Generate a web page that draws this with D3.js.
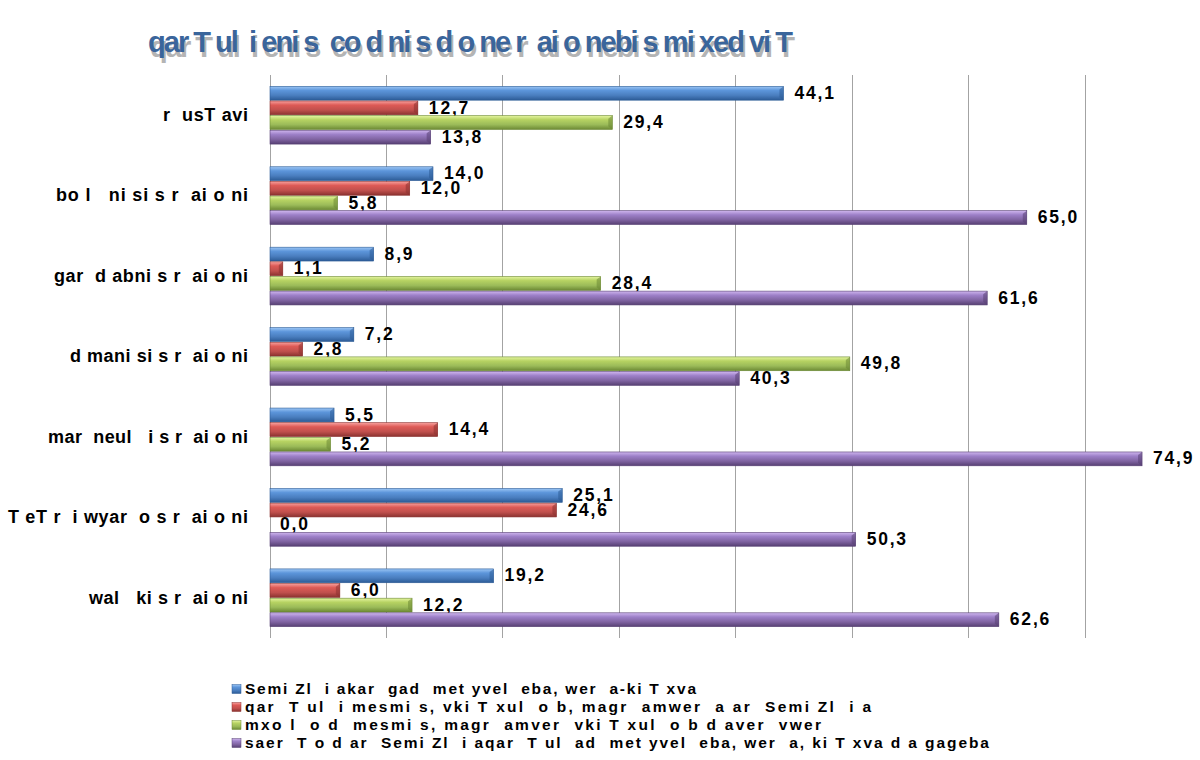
<!DOCTYPE html>
<html>
<head>
<meta charset="utf-8">
<script src="https://cdn.jsdelivr.net/npm/d3@7"></script>
<style>
  body { margin: 0; background: #fff; }
  svg text { font-family: "Liberation Sans", Arial, sans-serif; white-space: pre; }
</style>
</head>
<body>
<div id="chart"></div>
<script>
// Region labels, as they show on the picture
const categories = [
  "r  usT avi",
  "bo l   ni si s r  ai o ni",
  "gar  d abni s r  ai o ni",
  "d mani si s r  ai o ni",
  "mar  neul   i s r  ai o ni",
  "T eT r  i wyar  o s r  ai o ni",
  "wal   ki s r  ai o ni"
];

const seriesNames = [
  "Semi Zl  i akar  gad  met yvel  eba, wer  a-ki T xva",
  "qar  T ul  i mesmi s, vki T xul  o b, magr  amwer  a ar  Semi Zl  i a",
  "mxo l  o d  mesmi s, magr  amver  vki T xul  o b d aver  vwer",
  "saer  T o d ar  Semi Zl  i aqar  T ul  ad  met yvel  eba, wer  a, ki T xva d a gageba"
];

const blueValues   = [44.1, 14.0, 8.9, 7.2, 5.5, 25.1, 19.2];
const redValues    = [12.7, 12.0, 1.1, 2.8, 14.4, 24.6, 6.0];
const greenValues  = [29.4, 5.8, 28.4, 49.8, 5.2, 0.0, 12.2];
const purpleValues = [13.8, 65.0, 61.6, 40.3, 74.9, 50.3, 62.6];

const xTicks = [0, 10, 20, 30, 40, 50, 60, 70];

const titleText = "qar T ul  i eni s  co d ni s d o ne r  ai o nebi s mi xed vi T";

// widths the spaced-out labels take on the page (font metrics of the original)
const labelWidths = [85, 192, 194, 178, 200, 240, 159];
const legendWidths = [451, 626, 576, 744];

const width = 1200, height = 760;
const plot = {left: 270, right: 1085, top: 75, bottom: 638};

// colour stops for the glossy bars
const palettes = [
  ["#9cc6f5", "#5c95da", "#4a7ebf", "#2c5b96"],
  ["#f7a09d", "#dd5a56", "#c0504d", "#8b3230"],
  ["#e4f5a0", "#b6d262", "#9bbb59", "#6c8934"],
  ["#cfb6ee", "#9d80c8", "#8064a2", "#574073"]
];

const svg = d3.select('#chart').append('svg')
  .attr('width', width)
  .attr('height', height);

const defs = svg.append('defs');
palettes.forEach((p, i) => {
  const g = defs.append('linearGradient')
    .attr('id', 'grad' + i)
    .attr('x1', 0).attr('y1', 0).attr('x2', 0).attr('y2', 1);
  g.append('stop').attr('offset', '0%').attr('stop-color', p[0]);
  g.append('stop').attr('offset', '30%').attr('stop-color', p[1]);
  g.append('stop').attr('offset', '65%').attr('stop-color', p[2]);
  g.append('stop').attr('offset', '100%').attr('stop-color', p[3]);
});

const seriesData = [blueValues, redValues, greenValues, purpleValues];

const x = d3.scaleLinear()
  .domain([0, 70])
  .range([plot.left, plot.right]);

const y0 = d3.scaleBand()
  .domain(categories)
  .range([plot.top, plot.bottom])
  .paddingInner(0.272)
  .paddingOuter(0.136);

const y1 = d3.scaleBand()
  .domain(d3.range(seriesData.length))
  .range([0, y0.bandwidth()]);

// Title with its grey shadow
const title = svg.append('g');
title.append('text')
  .attr('x', 150).attr('y', 57)
  .attr('textLength', 645).attr('lengthAdjust', 'spacing')
  .attr('font-size', 29).attr('font-weight', 'bold')
  .attr('fill', '#b4b4b4')
  .text(titleText);
title.append('text')
  .attr('x', 148).attr('y', 52)
  .attr('textLength', 645).attr('lengthAdjust', 'spacing')
  .attr('font-size', 29).attr('font-weight', 'bold')
  .attr('fill', '#3a659b')
  .text(titleText);

// Grid lines
svg.append('g')
  .selectAll('line')
  .data(xTicks)
  .join('line')
  .attr('x1', d => x(d)).attr('x2', d => x(d))
  .attr('y1', plot.top).attr('y2', plot.bottom)
  .attr('stroke', '#a3a3a3')
  .attr('stroke-width', 1)
  .attr('shape-rendering', 'crispEdges');

// Bars
const groups = svg.append('g')
  .selectAll('g')
  .data(categories)
  .join('g')
  .attr('transform', d => `translate(0,${y0(d)})`);

const fmt = v => d3.format('.1f')(v).replace('.', ',');

groups.each(function(cat, ci) {
  const g = d3.select(this);
  seriesData.forEach((vals, si) => {
    const v = vals[ci];
    const yy = y1(si);
    const h = y1.bandwidth();
    if (v > 0) {
      g.append('rect')
        .attr('x', x(0))
        .attr('y', yy + 0.4)
        .attr('width', x(v) - x(0))
        .attr('height', h - 0.8)
        .attr('fill', `url(#grad${si})`)
        .attr('stroke', palettes[si][3])
        .attr('stroke-width', 0.6);
      // bevelled end of the bar
      const xe = x(v);
      g.append('path')
        .attr('d', `M${xe},${yy + 0.4}L${xe - 4},${yy + 3.5}L${xe - 4},${yy + h - 3.5}L${xe},${yy + h - 0.4}Z`)
        .attr('fill', palettes[si][3])
        .attr('opacity', 0.55);
    }
    g.append('text')
      .attr('x', x(v) + (v > 0 ? 11 : 10))
      .attr('y', yy + h / 2 + 1)
      .attr('dominant-baseline', 'middle')
      .attr('font-size', 17.5).attr('font-weight', 'bold')
      .attr('letter-spacing', 1.8)
      .attr('fill', '#000')
      .text(fmt(v));
  });
});

// Category labels
svg.append('g')
  .selectAll('text')
  .data(categories)
  .join('text')
  .attr('x', 248)
  .attr('y', d => y0(d) + y0.bandwidth() / 2 + 1)
  .attr('text-anchor', 'end')
  .attr('dominant-baseline', 'middle')
  .attr('textLength', (d, i) => labelWidths[i])
  .attr('lengthAdjust', 'spacing')
  .attr('font-size', 18).attr('font-weight', 'bold')
  .attr('fill', '#000')
  .text(d => d);

// Legend
const legend = svg.append('g')
  .selectAll('g')
  .data(seriesNames)
  .join('g')
  .attr('transform', (d, i) => `translate(232,${689 + i * 18})`);

legend.append('rect')
  .attr('x', 0).attr('y', -4.5)
  .attr('width', 9).attr('height', 9)
  .attr('fill', (d, i) => `url(#grad${i})`)
  .attr('stroke', (d, i) => palettes[i][3])
  .attr('stroke-width', 0.5);

legend.append('text')
  .attr('x', 13).attr('y', 0.5)
  .attr('dominant-baseline', 'middle')
  .attr('textLength', (d, i) => legendWidths[i])
  .attr('lengthAdjust', 'spacing')
  .attr('font-size', 15.5).attr('font-weight', 'bold')
  .attr('fill', '#000')
  .text(d => d);
</script>
</body>
</html>
